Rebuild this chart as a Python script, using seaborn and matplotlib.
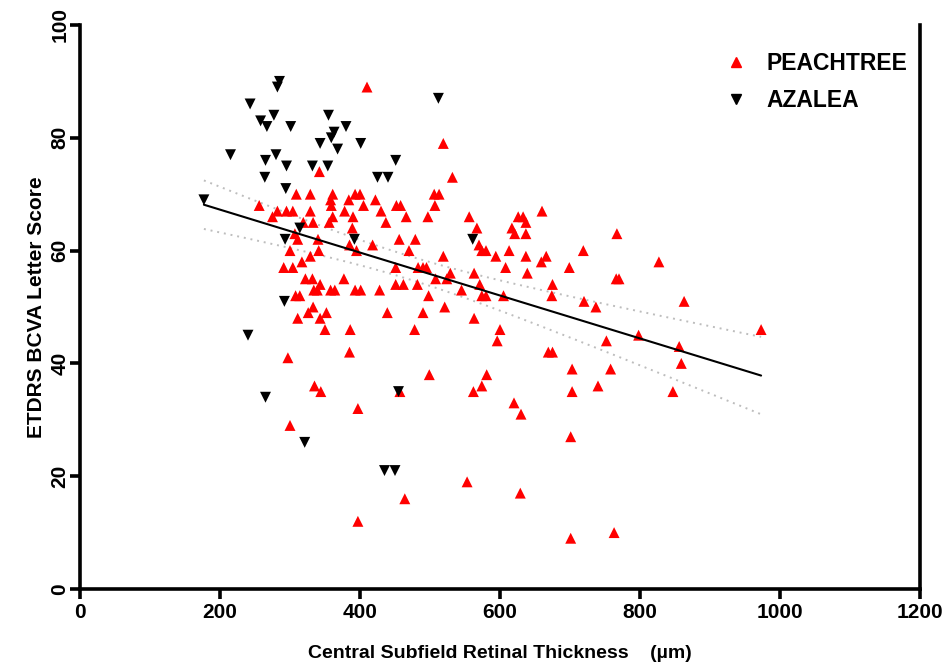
import numpy as np
import pandas as pd
import matplotlib
matplotlib.use("Agg")
import matplotlib.pyplot as plt
import seaborn as sns
from matplotlib.lines import Line2D

# ---------------- data ----------------
peach_x = [410, 342, 309, 329, 361, 393, 400, 256, 358, 384, 422, 282, 295, 304, 329, 359, 405,
           275, 361, 378, 390, 430, 319, 333, 356, 389, 437, 307, 311, 340, 385, 418, 300, 341,
           395, 329, 317, 291, 304, 322, 332, 377, 343, 334, 339, 358, 364, 393, 401, 428, 308,
           314, 333, 326, 352, 439, 311, 343, 350, 386, 385, 297, 335, 344, 397, 300, 397,
           519, 532, 506, 513, 452, 458, 507, 466, 497, 556, 567, 660, 626, 633, 637, 617, 621,
           637, 456, 479, 470, 519, 570, 574, 580, 594, 613, 637, 666, 659, 719,
           699, 451, 483, 490, 495, 529, 563, 608, 639, 508, 524, 451, 462, 482, 571, 545, 498,
           574, 580, 605, 675, 674, 720, 737, 490, 521, 563, 478, 600, 596, 669, 675, 703, 499,
           581, 574, 562, 457, 703, 740, 620, 630, 701, 553, 464, 629, 701,
           767, 827, 766, 770, 863, 973, 798, 752, 856, 859, 758, 847, 763]
peach_y = [89, 74, 70, 70, 70, 70, 70, 68, 69, 69, 69, 67, 67, 67, 67, 68, 68,
           66, 66, 67, 66, 67, 65, 65, 65, 64, 65, 63, 62, 62, 61, 61, 60, 60,
           60, 59, 58, 57, 57, 55, 55, 55, 54, 53, 53, 53, 53, 53, 53, 53, 52,
           52, 50, 49, 49, 49, 48, 48, 46, 46, 42, 41, 36, 35, 32, 29, 12,
           79, 73, 70, 70, 68, 68, 68, 66, 66, 66, 64, 67, 66, 66, 65, 64, 63,
           63, 62, 62, 60, 59, 61, 60, 60, 59, 60, 59, 59, 58, 60,
           57, 57, 57, 57, 57, 56, 56, 57, 56, 55, 55, 54, 54, 54, 54, 53, 52,
           52, 52, 52, 54, 52, 51, 50, 49, 50, 48, 46, 46, 44, 42, 42, 39, 38,
           38, 36, 35, 35, 35, 36, 33, 31, 27, 19, 16, 17, 9,
           63, 58, 55, 55, 51, 46, 45, 44, 43, 40, 39, 35, 10]

azalea_x = [285, 282, 243, 258, 277, 267, 301, 355, 380, 363, 359, 343, 368, 401, 215, 265,
            280, 295, 332, 354, 264, 425, 440, 294, 177, 314, 293, 392, 512, 451, 561, 292,
            240, 265, 321, 435, 450, 455]
azalea_y = [90, 89, 86, 83, 84, 82, 82, 84, 82, 81, 80, 79, 78, 79, 77, 76,
            77, 75, 75, 75, 73, 73, 73, 71, 69, 64, 62, 62, 87, 76, 62, 51,
            45, 34, 26, 21, 21, 35]

series_names = ["PEACHTREE", "AZALEA"]
series_colors = ["#ff0000", "#000000"]
x_ticks = [0, 200, 400, 600, 800, 1000, 1200]
y_ticks = [0, 20, 40, 60, 80, 100]
x_label = "Central Subfield Retinal Thickness    (\u00b5m)"
y_label = "ETDRS BCVA Letter Score"

# ---------------- style ----------------
sns.set_theme(style="ticks")
plt.rcParams['font.family'] = ['Liberation Sans', 'DejaVu Sans']
plt.rcParams.update({"text.color": "black", "axes.labelcolor": "black",
                     "xtick.color": "black", "ytick.color": "black"})

df = pd.DataFrame({
    "x": peach_x + azalea_x,
    "y": peach_y + azalea_y,
    "study": [series_names[0]] * len(peach_x) + [series_names[1]] * len(azalea_x),
})

fig = plt.figure(figsize=(9.49, 6.67), dpi=100)
ax = fig.add_axes([80 / 949, 1 - 589 / 667, 840 / 949, 564 / 667])

# linear fit with 95% confidence band on the combined data
allx = df["x"].to_numpy(float)
ally = df["y"].to_numpy(float)
slope, intercept = np.polyfit(allx, ally, 1)
n = len(allx)
xm = allx.mean()
resid = ally - (intercept + slope * allx)
s_err = np.sqrt(np.sum(resid ** 2) / (n - 2))
sxx = np.sum((allx - xm) ** 2)
xs = np.linspace(allx.min(), allx.max(), 200)
yfit = intercept + slope * xs
half = 1.97 * s_err * np.sqrt(1 / n + (xs - xm) ** 2 / sxx)
fit = pd.DataFrame({"x": xs, "fit": yfit, "lo": yfit - half, "hi": yfit + half})

sns.lineplot(data=fit, x="x", y="hi", ax=ax, color="#bdbdbd", lw=1.4, linestyle=(0, (1, 2.5)), zorder=1)
sns.lineplot(data=fit, x="x", y="lo", ax=ax, color="#bdbdbd", lw=1.4, linestyle=(0, (1, 2.5)), zorder=1)

sns.scatterplot(data=df, x="x", y="y", hue="study", style="study",
                markers={series_names[0]: "^", series_names[1]: "v"},
                palette=dict(zip(series_names, series_colors)),
                s=62, linewidth=0, ax=ax, legend=False, zorder=3)

sns.lineplot(data=fit, x="x", y="fit", ax=ax, color="black", lw=1.5, zorder=4)

ax.set_xlim(0, 1200)
ax.set_ylim(0, 100)
ax.set_xticks(x_ticks)
ax.set_yticks(y_ticks)
for side in ["left", "bottom", "right"]:
    ax.spines[side].set_linewidth(2.6)
    ax.spines[side].set_color("black")
ax.spines["top"].set_visible(False)
ax.tick_params(direction="out", length=7.5, width=2.6, color="black",
               labelsize=15, labelcolor="black")
ax.tick_params(axis="x", pad=2.5)
ax.tick_params(axis="y", labelrotation=90, pad=0)
ax.set_xticklabels([str(t) for t in x_ticks], fontsize=15, fontweight="bold")
ax.set_yticklabels([str(t) for t in y_ticks], fontsize=15, fontweight="bold",
                   rotation=90, va="center")

ax.set_xlabel(x_label, fontsize=14, fontweight="bold", color="black")
ax.set_ylabel(y_label, fontsize=15, fontweight="bold", color="black")
ax.xaxis.set_label_coords(0.5, -0.1)
ax.yaxis.set_label_coords(-0.041, 0.5)

handles = [Line2D([], [], marker="^", color=series_colors[0], ls="", markersize=6.5),
           Line2D([], [], marker="v", color=series_colors[1], ls="", markersize=6.5)]
leg = ax.legend(handles, series_names, loc="upper right", bbox_to_anchor=(1.01, 0.988),
                frameon=False, prop={"weight": "bold", "size": 16.5}, handletextpad=0.85,
                labelspacing=0.6, handlelength=1.0)
for t in leg.get_texts():
    t.set_color("black")

fig.savefig("out.png", dpi=100)
